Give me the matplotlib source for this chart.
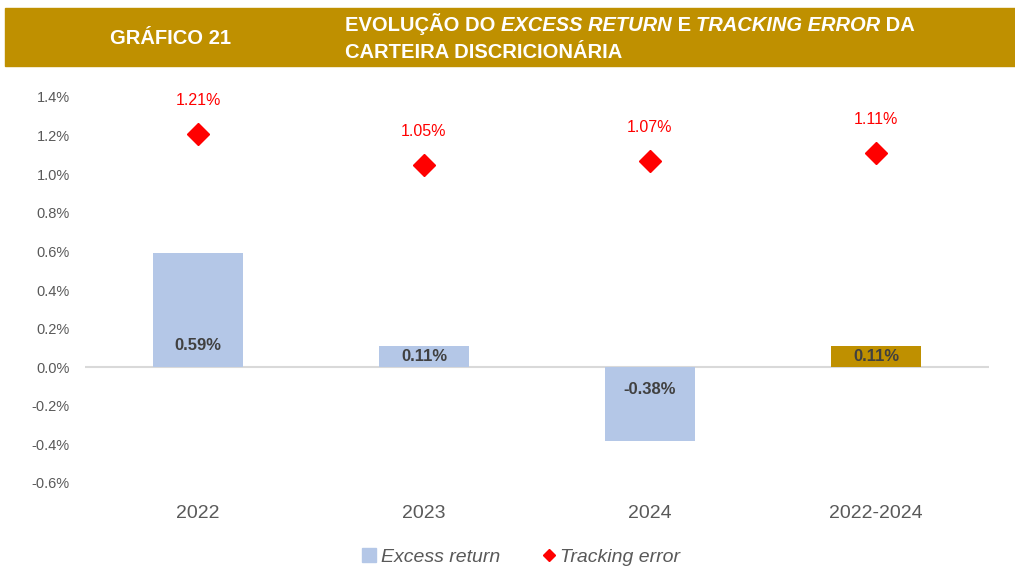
import matplotlib.pyplot as plt
import matplotlib.patches as mpatches
from matplotlib.lines import Line2D
from matplotlib.ticker import FuncFormatter

# dados do gráfico
categorias = ['2022', '2023', '2024', '2022-2024']
excess_return = [0.59, 0.11, -0.38, 0.11]
tracking_error = [1.21, 1.05, 1.07, 1.11]

cor_barra = '#B4C7E7'
cor_dourado = '#BF9000'
cor_texto = '#595959'

plt.rcParams['font.family'] = ['Liberation Sans', 'DejaVu Sans']
narrow = ['Liberation Sans Narrow', 'Liberation Sans', 'DejaVu Sans']

fig = plt.figure(figsize=(10.15, 5.69), dpi=100)
ax = fig.add_axes([85 / 1015, 1 - 483 / 569, 904 / 1015, 386 / 569])

x = list(range(len(categorias)))
cores = [cor_barra] * (len(categorias) - 1) + [cor_dourado]
ax.bar(x, excess_return, width=0.4, color=cores, zorder=2)
ax.plot(x, tracking_error, linestyle='none', marker='D', markersize=11,
        color='#FF0000', zorder=3)

# rótulos das barras (dentro, junto à base)
for xi, v in zip(x, excess_return):
    pos = min(0.115, abs(v) / 2) * (1 if v >= 0 else -1)
    ax.text(xi, pos, f'{v:.2f}%', ha='center', va='center', fontsize=12,
            fontweight='bold', color='#404040', zorder=4)

# rótulos do tracking error
for xi, v in zip(x, tracking_error):
    ax.annotate(f'{v:.2f}%', (xi, v), xytext=(0, 24), textcoords='offset points',
                ha='center', va='center', fontsize=11.5, color='#FF0000')

ax.set_xlim(-0.5, len(categorias) - 0.5)
ax.set_ylim(-0.6, 1.4)
ax.set_yticks([i / 10 for i in range(-6, 15, 2)])
ax.yaxis.set_major_formatter(FuncFormatter(lambda v, p: f'{v:.1f}%'))
ax.axhline(0, color='#D9D9D9', linewidth=1.5, zorder=1)

ax.set_xticks(x)
ax.set_xticklabels(categorias)
ax.tick_params(axis='x', length=0, pad=16, labelsize=14, labelcolor=cor_texto)
ax.tick_params(axis='y', length=0, pad=11, labelsize=10.5, labelcolor=cor_texto)
for s in ax.spines.values():
    s.set_visible(False)

# legenda
handles = [
    Line2D([], [], linestyle='none', marker='s', markersize=10, color=cor_barra),
    Line2D([], [], linestyle='none', marker='D', markersize=6, color='#FF0000'),
]
fig.legend(handles, ['Excess return', 'Tracking error'], loc='center',
           bbox_to_anchor=(520 / 1015, 1 - 557 / 569), ncol=2, frameon=False,
           handletextpad=0.1, columnspacing=2.0, handlelength=1.0,
           prop={'size': 14, 'style': 'italic'}, labelcolor=cor_texto)

# faixa do título
fig.patches.append(mpatches.Rectangle((5 / 1015, 1 - 66 / 569), 1010 / 1015, 58 / 569,
                                      transform=fig.transFigure, color=cor_dourado,
                                      zorder=-5))
estilo_titulo = dict(color='white', fontsize=14.5, fontweight='bold', family=narrow)
fig.text(110 / 1015, 1 - 38 / 569, 'GRÁFICO 21', ha='left', va='center', **estilo_titulo)

partes = [('EVOLUÇÃO DO ', 'normal'), ('EXCESS RETURN', 'italic'), (' E ', 'normal'),
          ('TRACKING ERROR', 'italic'), (' DA', 'normal')]
prev = fig.text(345 / 1015, 1 - 24 / 569, partes[0][0], ha='left', va='center',
                **estilo_titulo)
for txt, estilo in partes[1:]:
    prev = ax.annotate(txt, xy=(1, 0), xycoords=prev, ha='left', va='bottom',
                       style=estilo, annotation_clip=False, zorder=10, **estilo_titulo)
fig.text(345 / 1015, 1 - 52 / 569, 'CARTEIRA DISCRICIONÁRIA', ha='left', va='center',
         **estilo_titulo)

fig.savefig('out.png', dpi=100)
